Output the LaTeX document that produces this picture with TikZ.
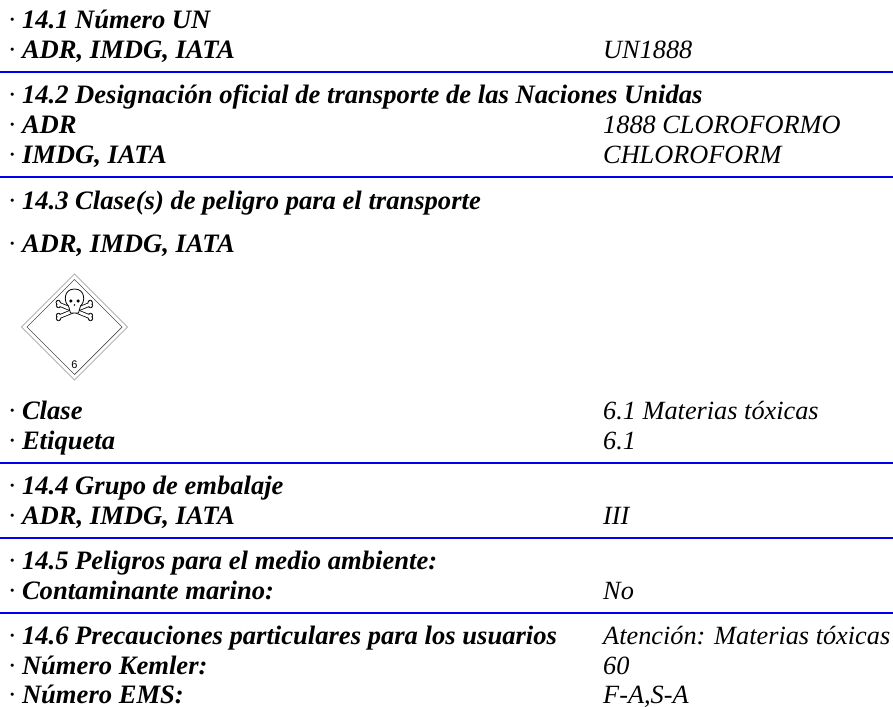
\documentclass[tikz,border=0pt]{standalone}
\usepackage{fontspec}
\setmainfont{Liberation Serif}
\newfontfamily\labelfont{Liberation Sans}
\definecolor{rule}{RGB}{0,0,240}
\tikzset{
 lbl/.style={anchor=base west,inner sep=0pt,font=\fontsize{26.6}{29}\selectfont\bfseries\itshape},
 val/.style={anchor=base west,inner sep=0pt,font=\fontsize{26.3}{29}\selectfont\itshape},
 sep/.style={draw=rule,line width=1.6pt},
 bone/.style={draw=black,line width=.8pt,fill=white,line join=round},
}
\newcommand{\dotl}{{\normalfont\itshape\textperiodcentered}\ }
\begin{document}
\begin{tikzpicture}[x=1pt,y=-1pt]
\useasboundingbox (0,0) rectangle (893,706);
\node[lbl] (a1) at (8.5,29) {\dotl 14.1 Número UN};
\node[lbl] (a2) at (8.5,59) {\dotl ADR, IMDG, IATA};
\node[val] (v2) at (603,59) {UN1888};
\coordinate (l1a) at (0,72); \coordinate (l1b) at (893,72);
\draw[sep] (l1a) -- (l1b);
\node[lbl] (b1) at (8.5,103) {\dotl 14.2 Designación oficial de transporte de las Naciones Unidas};
\node[lbl] (b2) at (8.5,133) {\dotl ADR};
\node[val] (v3) at (603,133) {1888 CLOROFORMO};
\node[lbl] (b3) at (8.5,163) {\dotl IMDG, IATA};
\node[val] (v4) at (603,163) {CHLOROFORM};
\coordinate (l2a) at (0,177); \coordinate (l2b) at (893,177);
\draw[sep] (l2a) -- (l2b);
\node[lbl] (c1) at (8.5,209) {\dotl 14.3 Clase(s) de peligro para el transporte};
\node[lbl] (c2) at (8.5,252) {\dotl ADR, IMDG, IATA};
% placard
\begin{scope}[shift={(74.5,327)}]
\draw[gray!60,line width=.8pt] (0,-53) -- (53,0) -- (0,53) -- (-53,0) -- cycle;
\draw[black!70,line width=.7pt] (0,-47.5) -- (47.5,0) -- (0,47.5) -- (-47.5,0) -- cycle;
% crossbones
\foreach \a/\b/\c/\d in {-16/-23/16/-10, 16/-23/-16/-10}{
  \draw[black,line width=4.4pt,line cap=round] (\a,\b) -- (\c,\d);
  \fill[black] (\a,\b) ++(-0.3,-1.6) circle (2.6) (\a,\b) ++(0,1.6) circle (2.6);
  \fill[black] (\c,\d) ++(0,-1.6) circle (2.6) (\c,\d) ++(0,1.6) circle (2.6);
}
\foreach \a/\b/\c/\d in {-16/-23/16/-10, 16/-23/-16/-10}{
  \draw[white,line width=2.8pt,line cap=round] (\a,\b) -- (\c,\d);
  \fill[white] (\a,\b) ++(-0.3,-1.6) circle (1.8) (\a,\b) ++(0,1.6) circle (1.8);
  \fill[white] (\c,\d) ++(0,-1.6) circle (1.8) (\c,\d) ++(0,1.6) circle (1.8);
}
% skull
\draw[bone] (-6,-21) .. controls (-11,-25) and (-11,-38) .. (0,-38) .. controls (11,-38) and (11,-25) .. (6,-21) .. controls (5,-19) and (5,-16) .. (4,-14) -- (-4,-14) .. controls (-5,-16) and (-5,-19) .. (-6,-21) -- cycle;
\fill (-3.6,-26) circle (1.8);
\fill (3.6,-26) circle (1.8);
\fill (0,-22) circle (.9);
\node[inner sep=0pt,font=\labelfont\fontsize{11}{11}\selectfont] (six) at (0,38) {6};
\end{scope}
\node[lbl] (d1) at (8.5,419) {\dotl Clase};
\node[val] (v5) at (603,419) {6.1 Materias tóxicas};
\node[lbl] (d2) at (8.5,449) {\dotl Etiqueta};
\node[val] (v6) at (603,449) {6.1};
\coordinate (l3a) at (0,463); \coordinate (l3b) at (893,463);
\draw[sep] (l3a) -- (l3b);
\node[lbl] (e1) at (8.5,494) {\dotl 14.4 Grupo de embalaje};
\node[lbl] (e2) at (8.5,524) {\dotl ADR, IMDG, IATA};
\node[val] (v7) at (603,524) {III};
\coordinate (l4a) at (0,537.7); \coordinate (l4b) at (893,537.7);
\draw[sep] (l4a) -- (l4b);
\node[lbl] (f1) at (8.5,569) {\dotl 14.5 Peligros para el medio ambiente:};
\node[lbl] (f2) at (8.5,599) {\dotl Contaminante marino:};
\node[val] (v8) at (603,599) {No};
\coordinate (l5a) at (0,612.7); \coordinate (l5b) at (893,612.7);
\draw[sep] (l5a) -- (l5b);
\node[lbl] (g1) at (8.5,644) {\dotl 14.6 Precauciones particulares para los usuarios};
\node[val] (v9) at (603,644) {Atención: Materias tóxicas};
\node[lbl] (g2) at (8.5,674) {\dotl Número Kemler:};
\node[val] (v10) at (603,674) {60};
\node[lbl] (g3) at (8.5,703) {\dotl Número EMS:};
\node[val] (v11) at (603,703) {F-A,S-A};
\end{tikzpicture}
\end{document}
